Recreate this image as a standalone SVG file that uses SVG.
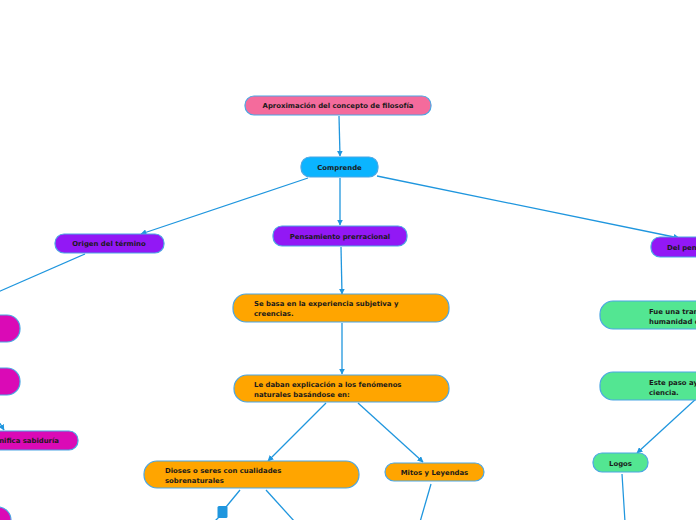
<svg xmlns="http://www.w3.org/2000/svg" width="696" height="520" viewBox="0 0 696 520">
<defs>
<marker id="arr" viewBox="0 0 10 10" refX="9" refY="5" markerWidth="6" markerHeight="6" markerUnits="userSpaceOnUse" orient="auto">
<path d="M0,0 L10,5 L0,10 z" fill="#1F96DE"/>
</marker>
<style>
.n{stroke:#4BA6E3;stroke-width:1.2}
.pink{fill:#F46B9C}
.cyan{fill:#0BB4FF}
.purple{fill:#9218F5}
.orange{fill:#FFA500}
.mag{fill:#DA0AB6}
.green{fill:#53E692}
.t{font-family:"DejaVu Sans",Verdana,sans-serif;font-weight:bold;font-size:6.9px;fill:#1a1a1a}
.c{text-anchor:middle}
.e{stroke:#1F96DE;stroke-width:1.3;fill:none}
</style>
</defs>
<rect width="696" height="520" fill="#ffffff"/>
<g id="connectors">
<line class="e" x1="339" y1="116" x2="340" y2="156" marker-end="url(#arr)"/>
<line class="e" x1="308" y1="178" x2="141" y2="234" marker-end="url(#arr)"/>
<line class="e" x1="340" y1="178" x2="340" y2="225" marker-end="url(#arr)"/>
<line class="e" x1="377" y1="176" x2="679" y2="238" marker-end="url(#arr)"/>
<line class="e" x1="85" y1="254" x2="-2" y2="292"/>
<line class="e" x1="-4" y1="417" x2="4" y2="430" marker-end="url(#arr)"/>
<line class="e" x1="341" y1="247" x2="342" y2="294" marker-end="url(#arr)"/>
<line class="e" x1="342" y1="323" x2="342" y2="374" marker-end="url(#arr)"/>
<line class="e" x1="326" y1="403" x2="268" y2="461" marker-end="url(#arr)"/>
<line class="e" x1="358" y1="403" x2="423" y2="462" marker-end="url(#arr)"/>
<line class="e" x1="240" y1="490" x2="226" y2="507"/>
<rect x="217.5" y="506" width="10" height="12" rx="1.5" fill="#1F96DE"/>
<line class="e" x1="219" y1="517" x2="214" y2="522"/>
<line class="e" x1="266" y1="490" x2="295" y2="522"/>
<line class="e" x1="431" y1="484" x2="420" y2="522"/>
<line class="e" x1="698" y1="397" x2="637" y2="453" marker-end="url(#arr)"/>
<line class="e" x1="622" y1="474" x2="625" y2="522"/>
</g>
<g id="n1"><rect class="n pink" x="245" y="96" width="186" height="19" rx="9"/><text class="t c" x="338" y="108">Aproximación del concepto de filosofía</text></g>
<g id="n2"><rect class="n cyan" x="301" y="157" width="77" height="20" rx="9"/><text class="t c" x="339.5" y="170">Comprende</text></g>
<g id="n3"><rect class="n purple" x="55" y="234" width="109" height="19" rx="9"/><text class="t c" x="109" y="246">Origen del término</text></g>
<g id="n4"><rect class="n purple" x="273" y="226" width="134" height="20" rx="9"/><text class="t c" x="340" y="239">Pensamiento prerracional</text></g>
<g id="n5"><rect class="n purple" x="651" y="237" width="110" height="20" rx="9"/><text class="t" x="667" y="250">Del pensamiento</text></g>
<g id="n6"><rect class="n mag" x="-60" y="315" width="80" height="27" rx="13"/></g>
<g id="n7"><rect class="n mag" x="-60" y="368" width="80" height="27" rx="13"/></g>
<g id="n8"><rect class="n mag" x="-40" y="431" width="118" height="19" rx="9"/><text class="t" x="59" y="443" text-anchor="end">Significa sabiduría</text></g>
<g id="n9"><rect class="n mag" x="-60" y="507" width="71" height="30" rx="13"/></g>
<g id="n10"><rect class="n orange" x="233" y="294" width="216" height="28" rx="13"/><text class="t" x="254" y="306">Se basa en la experiencia subjetiva y</text><text class="t" x="254" y="315.5">creencias.</text></g>
<g id="n11"><rect class="n orange" x="234" y="375" width="215" height="27" rx="13"/><text class="t" x="254" y="387">Le daban explicación a los fenómenos</text><text class="t" x="254" y="396.5">naturales basándose en:</text></g>
<g id="n12"><rect class="n orange" x="144" y="461" width="215" height="27" rx="13"/><text class="t" x="165" y="473">Dioses o seres con cualidades</text><text class="t" x="165" y="482.5">sobrenaturales</text></g>
<g id="n13"><rect class="n orange" x="385" y="463" width="99" height="18" rx="9"/><text class="t c" x="434.5" y="475">Mitos y Leyendas</text></g>
<g id="n14"><rect class="n green" x="600" y="301" width="150" height="28" rx="13"/><text class="t" x="649" y="314">Fue una transición de la</text><text class="t" x="649" y="323.5">humanidad de</text></g>
<g id="n15"><rect class="n green" x="600" y="372" width="150" height="28" rx="13"/><text class="t" x="649" y="385">Este paso ayudó a la</text><text class="t" x="649" y="394.5">ciencia.</text></g>
<g id="n16"><rect class="n green" x="593" y="453" width="55" height="19" rx="9"/><text class="t c" x="620.5" y="465.5">Logos</text></g>
</svg>
